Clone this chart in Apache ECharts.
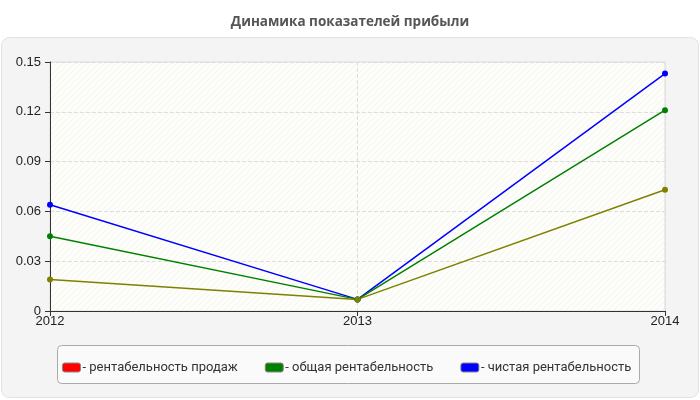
<!DOCTYPE html>
<html>
<head>
  <meta charset="utf-8">
  <title>Динамика показателей прибыли</title>
  <script src="https://cdn.jsdelivr.net/npm/echarts@6/dist/echarts.min.js"></script>
  <style>
    html, body { margin: 0; padding: 0; background: #fff; }
  </style>
</head>
<body>
<div id="main" style="width: 700px;height:400px;"></div>

<script type="text/javascript">
  // данные
  var years = [2012, 2013, 2014];
  var seriesNames = ['рентабельность продаж', 'общая рентабельность', 'чистая рентабельность'];
  var salesMargin = [0.019, 0.007, 0.073];
  var totalMargin = [0.045, 0.007, 0.121];
  var netMargin = [0.064, 0.007, 0.143];

  function pairs(vals) {
    var out = [];
    for (var i = 0; i < years.length; i++) {
      out.push([years[i], vals[i]]);
    }
    return out;
  }

  // штриховка фона
  var hatch = document.createElement('canvas');
  hatch.width = 6;
  hatch.height = 6;
  var ctx = hatch.getContext('2d');
  ctx.fillStyle = '#fdfdf9';
  ctx.fillRect(0, 0, 6, 6);
  ctx.strokeStyle = '#f4f4f0';
  ctx.lineWidth = 1;
  ctx.beginPath();
  ctx.moveTo(0, 6); ctx.lineTo(6, 0);
  ctx.moveTo(-3, 3); ctx.lineTo(3, -3);
  ctx.moveTo(3, 9); ctx.lineTo(9, 3);
  ctx.stroke();

  function lineSeries(name, vals, color) {
    return {
      name: name,
      type: 'line',
      data: pairs(vals),
      symbol: 'circle',
      symbolSize: 6,
      lineStyle: {color: color, width: 1.5},
      itemStyle: {color: color},
      emphasis: {disabled: true}
    };
  }

  var myChart = echarts.init(document.getElementById('main'));
  var option = {
    animation: false,
    title: {
      text: 'Динамика показателей прибыли',
      left: 'center',
      top: 10,
      textStyle: {color: '#555', fontSize: 13.5, fontWeight: 'bold', fontFamily: 'Open Sans'}
    },
    graphic: [
      {
        type: 'rect', z: -10,
        shape: {x: 1.5, y: 37.5, width: 697, height: 360, r: 8},
        style: {fill: '#f4f4f4', stroke: '#e2e2e2', lineWidth: 1}
      },
      {
        type: 'rect', z: -5,
        shape: {x: 57.5, y: 345.5, width: 582, height: 38, r: 4},
        style: {fill: '#fafafa', stroke: '#aaaaaa', lineWidth: 1}
      }
    ],
    legend: {
      data: [
        {name: seriesNames[0], itemStyle: {color: '#ff0000'}},
        {name: seriesNames[1], itemStyle: {color: '#008000'}},
        {name: seriesNames[2], itemStyle: {color: '#0000ff'}}
      ],
      left: 57,
      top: 356,
      itemWidth: 18,
      itemHeight: 9,
      itemGap: 27,
      icon: 'roundRect',
      selectedMode: false,
      formatter: '- {name}',
      itemStyle: {borderColor: '#888', borderWidth: 1},
      textStyle: {color: '#333', fontSize: 13, fontFamily: 'Roboto', padding: [0, 0, 0, -3]}
    },
    grid: {
      left: 50, right: 35, top: 62, bottom: 89,
      show: true,
      backgroundColor: {image: hatch, repeat: 'repeat'},
      borderColor: '#dddddd',
      borderWidth: 1
    },
    xAxis: {
      type: 'value',
      min: 2012,
      max: 2014,
      interval: 1,
      axisLine: {lineStyle: {color: '#333'}},
      axisTick: {show: true, length: 5, lineStyle: {color: '#333'}},
      axisLabel: {
        color: '#222', fontSize: 13, fontFamily: 'Liberation Sans', margin: 4,
        formatter: function (v) { return String(v); }
      },
      splitLine: {show: true, lineStyle: {color: '#dddddd', type: 'dashed'}}
    },
    yAxis: {
      type: 'value',
      min: 0,
      max: 0.15,
      interval: 0.03,
      axisLine: {show: true, lineStyle: {color: '#333'}},
      axisTick: {show: true, length: 5, lineStyle: {color: '#333'}},
      axisLabel: {color: '#222', fontSize: 13, fontFamily: 'Liberation Sans', margin: 9},
      splitLine: {show: true, lineStyle: {color: '#dddddd', type: 'dashed'}}
    },
    series: [
      lineSeries(seriesNames[2], netMargin, '#0000ff'),
      lineSeries(seriesNames[1], totalMargin, '#008000'),
      lineSeries(seriesNames[0], salesMargin, '#808000')
    ]
  };
  myChart.setOption(option);
</script>
</body>
</html>
